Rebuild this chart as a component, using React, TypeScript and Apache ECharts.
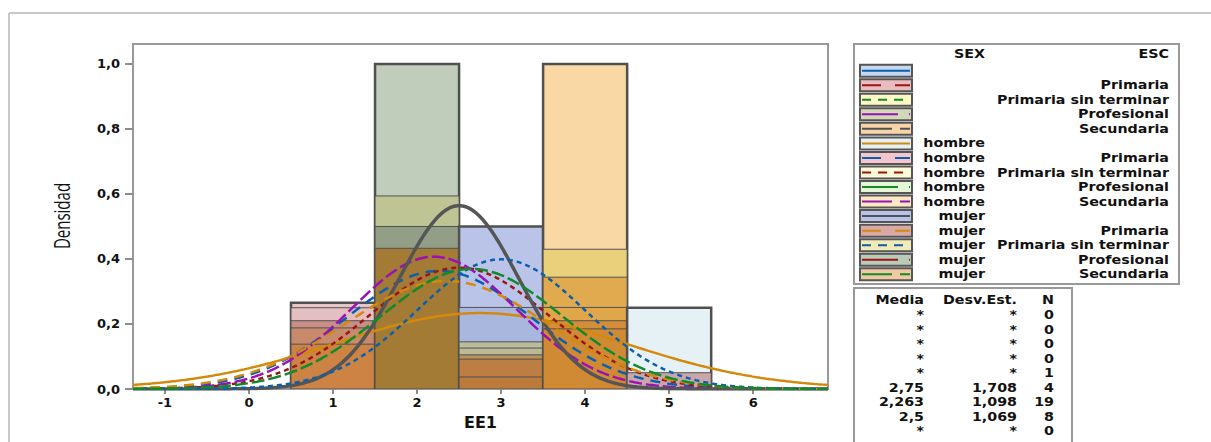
import React, { useEffect, useRef } from "react";
import * as echarts from "echarts";

// axis ticks
const xTicks = [-1, 0, 1, 2, 3, 4, 5, 6];
const yTicks = [0, 0.2, 0.4, 0.6, 0.8, 1.0];

// histogram bands (overlaid group histograms), bin centre and band top (density)
const bandBin = [1, 1, 1, 1, 1, 2, 2, 2, 2, 3, 3, 3, 3, 3, 3, 3, 4, 4, 4, 4, 4, 4, 5, 5];
const bandTop = [0.265, 0.25, 0.21, 0.188, 0.138, 1.0, 0.594, 0.5, 0.433, 0.5, 0.251, 0.145, 0.126, 0.105, 0.092, 0.037, 1.0, 0.43, 0.344, 0.251, 0.21, 0.185, 0.25, 0.05];
const bandFill = [
  "#E8C6C8", "#E4BFC2", "#C98E86", "#C88A6C", "#CD8343",
  "#C0CDBA", "#BEC493", "#929F86", "#A37B34",
  "#B9C4E8", "#A9B6DE", "#BABC9C", "#BCBA96", "#B8935E", "#BC7E42", "#BD7B3B",
  "#F9D8A6", "#EAD07A", "#E2AA4F", "#DFA64A", "#D58E38", "#D08A33",
  "#E6F1F5", "#C9A7AA",
];

// fitted normal curves (mean, st. dev.)
const curveName = ["hombre", "hombre Primaria", "hombre Primaria sin terminar", "hombre Secundaria", "mujer", "mujer Primaria", "mujer Primaria sin terminar", "mujer Secundaria"];
const curveMean = [2.75, 2.263, 2.5, 2.2, 2.5, 2.35, 3.0, 2.65];
const curveSd = [1.708, 1.098, 1.069, 0.98, 0.7071, 1.2, 1.0, 1.08];
const curveColor = ["#D4890C", "#0A5FAE", "#9C1515", "#9A12B4", "#555555", "#D4890C", "#0A5FAE", "#108A2A"];
const curveDash: any[] = ["solid", [10, 7], [5, 4], [13, 4], "solid", [10, 7], [5, 4], [13, 4]];
const curveWidth = [2.5, 2.5, 2.5, 2.5, 3.5, 2.5, 2.5, 2.5];

// legend rows
const legSex = ["", "", "", "", "", "hombre", "hombre", "hombre", "hombre", "hombre", "mujer", "mujer", "mujer", "mujer", "mujer"];
const legEsc = ["", "Primaria", "Primaria sin terminar", "Profesional", "Secundaria", "", "Primaria", "Primaria sin terminar", "Profesional", "Secundaria", "", "Primaria", "Primaria sin terminar", "Profesional", "Secundaria"];
const legFill = ["#C6D8EE", "#E9BDBF", "#FFF9C3", "#D3D9B8", "#F9D4A8", "#E3F0F5", "#F5C6CB", "#FFFCD6", "#E6F5D6", "#FDE9C2", "#B8C3E6", "#D9A9A8", "#F0EBB7", "#BACAB8", "#F0C8A2"];
const legLine = ["#0A5FAE", "#9C1515", "#108A2A", "#9A12B4", "#505050", "#D4890C", "#0A5FAE", "#9C1515", "#108A2A", "#9A12B4", "#505060", "#D4890C", "#0A5FAE", "#9C1515", "#108A2A"];
const legDash: any[] = [null, [19, 14], [9, 7], [36, 11], [30, 8], null, [19, 14], [9, 7], [36, 11], [30, 8], null, [19, 14], [9, 7], [36, 11], [30, 8]];

// statistics table
const statMedia = ["*", "*", "*", "*", "*", "2,75", "2,263", "2,5", "*"];
const statSd = ["*", "*", "*", "*", "*", "1,708", "1,098", "1,069", "*"];
const statN = ["0", "0", "0", "0", "1", "4", "19", "8", "0"];

const X_MIN = -1.38;
const X_MAX = 6.89;

function normalPdf(x: number, m: number, s: number) {
  const z = (x - m) / s;
  return Math.exp(-0.5 * z * z) / (s * Math.sqrt(2 * Math.PI));
}

export default function App() {
  const ref = useRef<HTMLDivElement>(null);
  useEffect(() => {
    if (!ref.current) return;
    const chart = echarts.init(ref.current, null, { renderer: "svg" });
    const FONT = '"DejaVu Sans", sans-serif';

    const histData = bandBin.map((b, i) => [b - 0.5, b + 0.5, bandTop[i]]);
    const isTop = bandBin.map((b, i) => i === 0 || bandBin[i - 1] !== b);

    const curveSeries = curveMean.map((m, k) => {
      const pts: number[][] = [];
      for (let i = 0; i <= 420; i++) {
        const x = X_MIN + ((X_MAX - X_MIN) * i) / 420;
        pts.push([x, normalPdf(x, m, curveSd[k])]);
      }
      return {
        type: "line",
        name: curveName[k],
        data: pts,
        showSymbol: false,
        symbol: "none",
        smooth: false,
        z: 5,
        lineStyle: { color: curveColor[k], width: curveWidth[k], type: curveDash[k] },
      };
    });

    const graphics: any[] = [];
    // outer frame
    graphics.push({ type: "line", shape: { x1: 9, y1: 13, x2: 1211, y2: 13 }, style: { stroke: "#C8C8C8", lineWidth: 2 } });
    graphics.push({ type: "line", shape: { x1: 9, y1: 13, x2: 9, y2: 442 }, style: { stroke: "#C8C8C8", lineWidth: 2 } });
    // y axis name
    graphics.push({
      type: "text", x: 61, y: 216, rotation: Math.PI / 2, scaleY: 1.45,
      style: { text: "Densidad", align: "center", verticalAlign: "middle", font: '15px "Open Sans", sans-serif', fill: "#111" },
    });
    // legend box
    graphics.push({ type: "rect", shape: { x: 854, y: 44, width: 325, height: 240 }, style: { fill: "#fff", stroke: "#999", lineWidth: 2 } });
    const tFont = 'bold 12px "DejaVu Sans", sans-serif';
    const txt = (text: string, x: number, y: number) => ({
      type: "text", x, y, scaleX: 1.19,
      style: { text, align: "right", verticalAlign: "middle", font: tFont, fill: "#111" },
    });
    graphics.push(txt("SEX", 985, 54));
    graphics.push(txt("ESC", 1169, 54));
    legSex.forEach((s, i) => {
      const cy = 70.7 + i * 14.54;
      graphics.push({ type: "rect", shape: { x: 860, y: cy - 6, width: 52, height: 12 }, style: { fill: legFill[i], stroke: "#555", lineWidth: 2 } });
      graphics.push({ type: "line", shape: { x1: 862, y1: cy, x2: 910, y2: cy }, style: { stroke: legLine[i], lineWidth: 2, lineDash: legDash[i] || undefined } });
      if (s) graphics.push(txt(s, 985, cy));
      if (legEsc[i]) graphics.push(txt(legEsc[i], 1169, cy));
    });
    // statistics table
    graphics.push({ type: "rect", shape: { x: 854, y: 288, width: 218, height: 200 }, style: { fill: "#fff", stroke: "#999", lineWidth: 2 } });
    graphics.push(txt("Media", 924, 300));
    graphics.push(txt("Desv.Est.", 1017, 300));
    graphics.push(txt("N", 1054, 300));
    statN.forEach((n, i) => {
      const cy = 315 + i * 14.55;
      graphics.push(txt(statMedia[i], 924, cy));
      graphics.push(txt(statSd[i], 1017, cy));
      graphics.push(txt(n, 1054, cy));
    });

    chart.setOption({
      animation: false,
      backgroundColor: "#fff",
      grid: { left: 133, top: 44, width: 695, height: 345, show: true, borderColor: "#999", borderWidth: 2, backgroundColor: "#fff" },
      xAxis: {
        type: "value", min: X_MIN, max: X_MAX,
        name: "EE1", nameLocation: "middle", nameGap: 25,
        nameTextStyle: { fontFamily: FONT, fontWeight: "bold", fontSize: 16, color: "#111" },
        axisLine: { show: true, onZero: false, lineStyle: { color: "#999", width: 2 } },
        axisTick: { show: true, inside: false, length: 5, lineStyle: { color: "#8C8C8C", width: 2 }, customValues: xTicks },
        axisLabel: { customValues: xTicks, margin: 7, fontFamily: FONT, fontWeight: "bold", fontSize: 13, color: "#111", formatter: (v: number) => String(Math.round(v)) },
        splitLine: { show: false },
      },
      yAxis: {
        type: "value", min: 0, max: 1.0615,
        axisLine: { show: true, onZero: false, lineStyle: { color: "#999", width: 2 } },
        axisTick: { show: true, inside: false, length: 8, lineStyle: { color: "#8C8C8C", width: 2 }, customValues: yTicks },
        axisLabel: { customValues: yTicks, margin: 13, fontFamily: FONT, fontWeight: "bold", fontSize: 13, color: "#111", formatter: (v: number) => v.toFixed(1).replace(".", ",") },
        splitLine: { show: false },
      },
      series: [
        {
          type: "custom",
          z: 2,
          clip: true,
          data: histData,
          encode: { x: [0, 1], y: 2 },
          renderItem: (params: any, api: any) => {
            const i = params.dataIndex;
            const p0 = api.coord([api.value(0), 0]);
            const p1 = api.coord([api.value(1), api.value(2)]);
            return {
              type: "rect",
              shape: { x: p0[0], y: p1[1], width: p1[0] - p0[0], height: p0[1] - p1[1] },
              style: { fill: bandFill[i], stroke: "#505050", lineWidth: isTop[i] ? 2.5 : 1 },
            };
          },
        },
        ...curveSeries,
      ],
      graphic: graphics,
    });
    return () => chart.dispose();
  }, []);
  return <div ref={ref} style={{ position: "fixed", left: 0, top: 0, width: 1211, height: 442, background: "#fff" }} />;
}
